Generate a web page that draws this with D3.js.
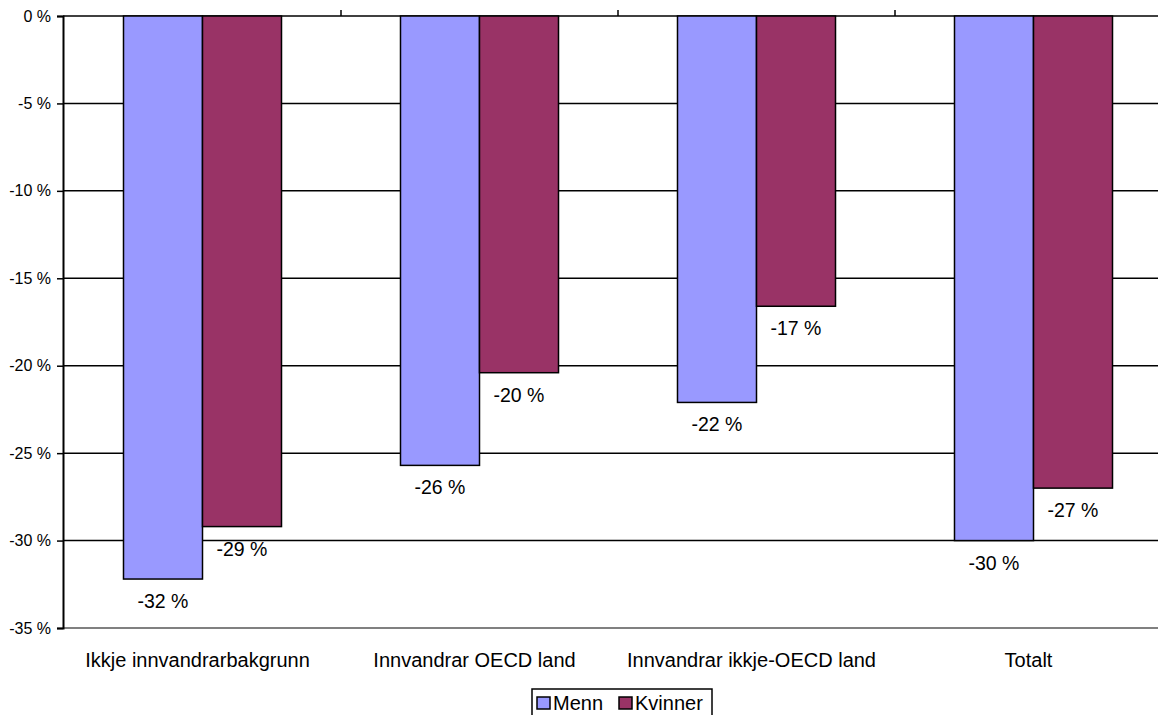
<!DOCTYPE html>
<html>
<head>
<meta charset="utf-8">
<script src="https://cdn.jsdelivr.net/npm/d3@7"></script>
<style>
  body { margin: 0; background: #fff; }
  svg { display: block; font-family: "Liberation Sans", Arial, sans-serif; }
</style>
</head>
<body>
<svg id="chart" width="1158" height="715"></svg>
<script>
// Chart data
const categories = ["Ikkje innvandrarbakgrunn", "Innvandrar OECD land", "Innvandrar ikkje-OECD land", "Totalt"];
const series = ["Menn", "Kvinner"];
const menn = [-32.2, -25.7, -22.1, -30.0];
const kvinner = [-29.2, -20.4, -16.6, -27.0];
const yTicks = [0, -5, -10, -15, -20, -25, -30, -35];
const colors = ["#9999ff", "#993366"];

const data = categories.map((c, i) => ({ category: c, values: [menn[i], kvinner[i]] }));

const svg = d3.select("#chart");

// Scales
const x = d3.scaleBand().domain(categories).range([64, 1172]).padding(0);
const xSeries = d3.scaleBand().domain(series).range([0, x.bandwidth()]).paddingInner(0).paddingOuter(0.753);
const y = d3.scaleLinear().domain([0, -35]).range([16, 628]);

// Gridlines
svg.append("g")
  .selectAll("line")
  .data(yTicks.filter((t) => t !== -35))
  .join("line")
  .attr("x1", 63).attr("x2", 1172)
  .attr("y1", (d) => y(d)).attr("y2", (d) => y(d))
  .attr("stroke", "#000").attr("stroke-width", 1.5);

// Bars
const groups = svg.append("g")
  .selectAll("g")
  .data(data)
  .join("g")
  .attr("transform", (d) => `translate(${x(d.category)},0)`);

groups.selectAll("rect")
  .data((d) => d.values.map((v, i) => ({ key: series[i], value: v, i })))
  .join("rect")
  .attr("x", (d) => xSeries(d.key))
  .attr("y", y(0))
  .attr("width", xSeries.bandwidth())
  .attr("height", (d) => y(d.value) - y(0))
  .attr("fill", (d) => colors[d.i])
  .attr("stroke", "#000")
  .attr("stroke-width", 1.5);

// Value labels
const fmt = (v) => d3.format(".0f")(v).replace("−", "-") + " %";
groups.selectAll("text")
  .data((d) => d.values.map((v, i) => ({ key: series[i], value: v })))
  .join("text")
  .attr("x", (d) => xSeries(d.key) + xSeries.bandwidth() / 2)
  .attr("y", (d) => y(d.value) + 29)
  .attr("text-anchor", "middle")
  .attr("font-size", 19.5)
  .attr("fill", "#000")
  .text((d) => fmt(d.value));

// Bottom axis line (gray)
svg.append("line")
  .attr("x1", 63).attr("x2", 1172)
  .attr("y1", y(-35)).attr("y2", y(-35))
  .attr("stroke", "#808080").attr("stroke-width", 2);

// Top ticks at category boundaries
svg.append("g")
  .selectAll("line")
  .data(categories.slice(1))
  .join("line")
  .attr("x1", (d) => x(d)).attr("x2", (d) => x(d))
  .attr("y1", y(0) - 6).attr("y2", y(0))
  .attr("stroke", "#000").attr("stroke-width", 1.5);

// Y axis
const yAxis = svg.append("g")
  .attr("transform", "translate(63,0)")
  .call(d3.axisLeft(y).tickValues(yTicks).tickSize(6).tickFormat((d) => fmt(d)));
yAxis.select(".domain").attr("stroke", "#000").attr("stroke-width", 2);
yAxis.selectAll(".tick line").attr("stroke", "#000").attr("stroke-width", 1.5);
yAxis.selectAll(".tick text")
  .attr("x", -12)
  .attr("font-size", 16)
  .attr("font-family", "Liberation Sans, Arial, sans-serif")
  .attr("fill", "#000");

// Category labels
svg.append("g")
  .selectAll("text")
  .data(categories)
  .join("text")
  .attr("x", (d) => x(d) + x.bandwidth() / 2 - 5)
  .attr("y", 667)
  .attr("text-anchor", "middle")
  .attr("font-size", 20)
  .attr("fill", "#000")
  .text((d) => d);

// Legend
const legend = svg.append("g");
legend.append("rect")
  .attr("x", 532).attr("y", 689)
  .attr("width", 180).attr("height", 40)
  .attr("fill", "#fff").attr("stroke", "#000").attr("stroke-width", 1.5);

const legendX = [537, 619];
series.forEach((s, i) => {
  legend.append("rect")
    .attr("x", legendX[i]).attr("y", 697)
    .attr("width", 13).attr("height", 12)
    .attr("fill", colors[i]).attr("stroke", "#000").attr("stroke-width", 1.5);
  legend.append("text")
    .attr("x", legendX[i] + 16).attr("y", 710)
    .attr("font-size", 20)
    .attr("fill", "#000")
    .text(s);
});
</script>
</body>
</html>
